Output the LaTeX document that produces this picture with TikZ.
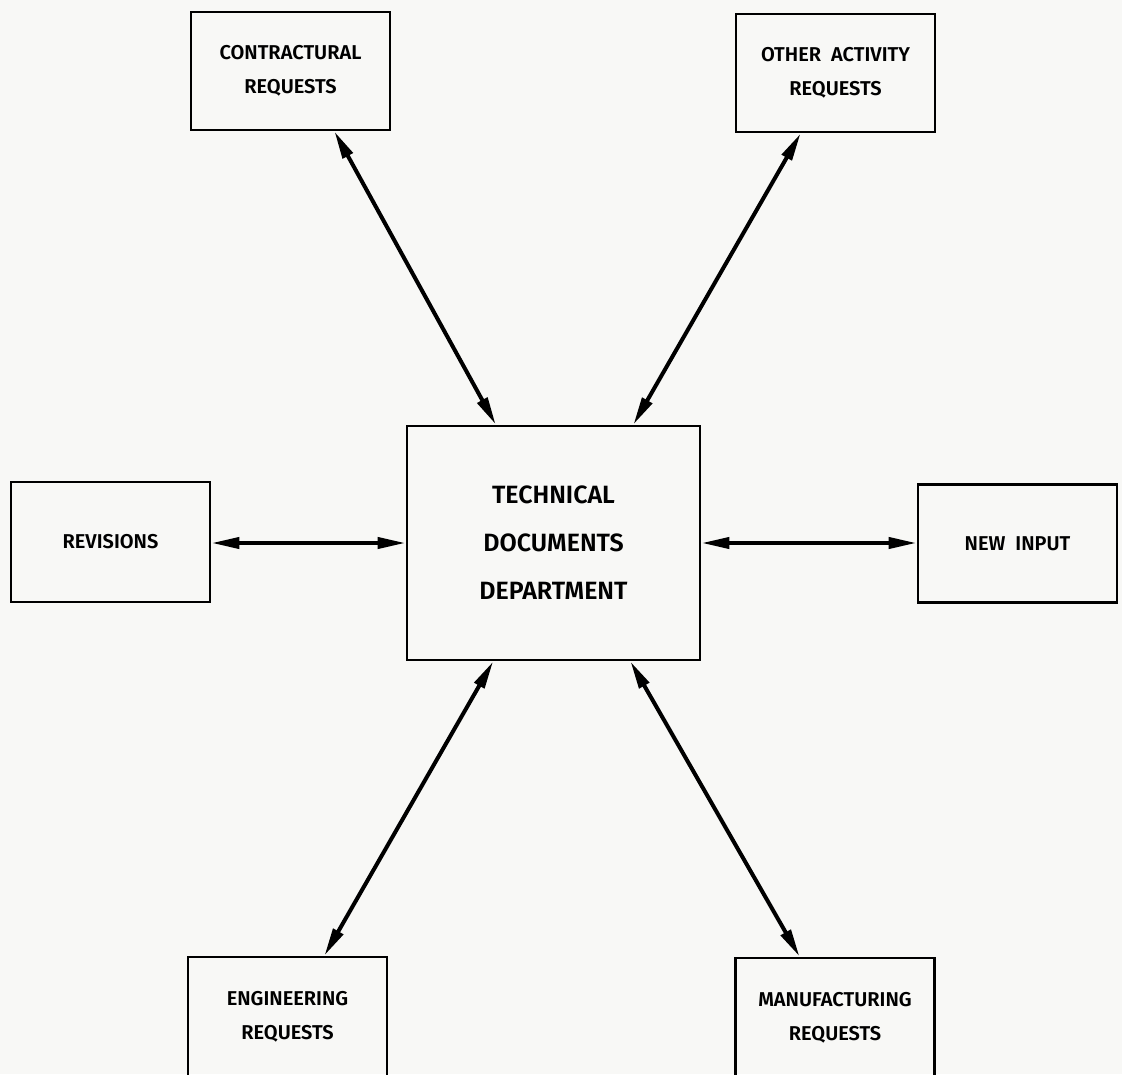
\documentclass[tikz,border=0pt]{standalone}
\usepackage{fontspec}
\setmainfont{Fira Sans}[BoldFont={* SemiBold}]
\usetikzlibrary{arrows.meta}

\definecolor{paper}{RGB}{248,248,246}

\begin{document}
\begin{tikzpicture}[
  x=0.5pt, y=-0.5pt,
  box/.style={draw, line width=1.4pt, align=center, inner sep=0pt,
    minimum width=99.5pt, minimum height=59pt,
    font=\bfseries\fontsize{10}{17}\selectfont},
  bigbox/.style={box, minimum width=146.5pt, minimum height=117pt,
    font=\bfseries\fontsize{12.5}{24}\selectfont},
  link/.style={{Triangle[length=14pt,width=5.5pt]}-{Triangle[length=14pt,width=5.5pt]},
    line width=2pt}
]
\useasboundingbox[fill=paper] (0,0) rectangle (1122,1074);

% the department and the requests round it
\node[bigbox] (tdd) at (553.5,543) {TECHNICAL\\DOCUMENTS\\DEPARTMENT};
\node[box] (contr) at (290.5,71) {CONTRACTURAL\\REQUESTS};
\node[box] (other) at (835.5,73) {OTHER\hspace{0.5em}ACTIVITY\\REQUESTS};
\node[box, minimum height=60pt] (rev) at (110.5,542) {REVISIONS};
\node[box] (new) at (1017.5,543.5) {NEW\hspace{0.5em}INPUT};
\node[box, minimum height=60pt] (eng) at (287.5,1017) {ENGINEERING\\REQUESTS};
\node[box, minimum height=60pt] (manu) at (835,1018) {MANUFACTURING\\REQUESTS};

% two-way flows
\draw[link] (tdd.116) -- (contr.-54);
\draw[link] (tdd.56) -- (other.-120);
\draw[link] (tdd.west) -- (tdd.west -| rev.east);
\draw[link] (tdd.east) -- (tdd.east -| new.west);
\draw[link] (tdd.-117) -- (eng.59);
\draw[link] (tdd.-57) -- (manu.120);
\end{tikzpicture}
\end{document}
